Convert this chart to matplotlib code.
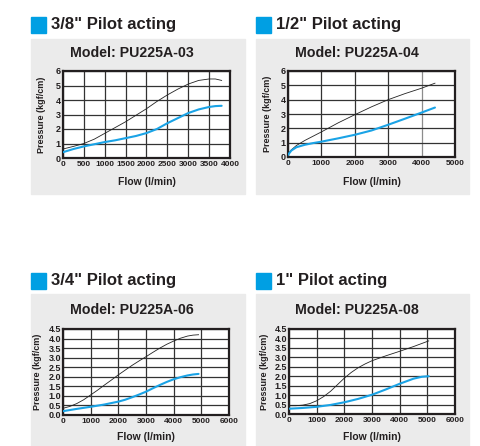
import matplotlib
matplotlib.use("Agg")
import matplotlib.pyplot as plt
from matplotlib.patches import Rectangle
from matplotlib import font_manager

names = {f.name for f in font_manager.fontManager.ttflist}
NARROW = 'Liberation Sans Narrow' if 'Liberation Sans Narrow' in names else 'Liberation Sans'
SANS = 'Liberation Sans'

# ---------------- data ----------------
headers = ['3/8" Pilot acting', '1/2" Pilot acting', '3/4" Pilot acting', '1" Pilot acting']
models = ['Model: PU225A-03', 'Model: PU225A-04', 'Model: PU225A-06', 'Model: PU225A-08']

p1_flow_black = [0, 250, 500, 750, 1000, 1250, 1500, 1750, 2000, 2250, 2500, 2750, 3000, 3250, 3500, 3650, 3800]
p1_press_black = [0.62, 0.8, 1.0, 1.3, 1.7, 2.1, 2.5, 2.95, 3.4, 3.9, 4.35, 4.75, 5.1, 5.35, 5.45, 5.45, 5.35]
p1_flow_blue = [0, 250, 500, 750, 1000, 1250, 1500, 1750, 2000, 2250, 2500, 2750, 3000, 3250, 3500, 3650, 3800]
p1_press_blue = [0.4, 0.62, 0.8, 0.95, 1.1, 1.22, 1.37, 1.52, 1.72, 2.0, 2.4, 2.75, 3.1, 3.35, 3.52, 3.58, 3.6]

p2_flow_black = [0, 100, 250, 500, 750, 1000, 1500, 2000, 2500, 3000, 3500, 4000, 4400]
p2_press_black = [0.23, 0.5, 0.8, 1.15, 1.45, 1.75, 2.38, 2.95, 3.5, 4.0, 4.42, 4.8, 5.15]
p2_flow_blue = [0, 100, 250, 500, 750, 1000, 1500, 2000, 2500, 3000, 3500, 4000, 4400]
p2_press_blue = [0.15, 0.45, 0.68, 0.85, 0.97, 1.07, 1.3, 1.55, 1.85, 2.25, 2.67, 3.1, 3.45]

p3_flow_black = [0, 250, 500, 750, 1000, 1250, 1500, 1750, 2000, 2250, 2500, 2750, 3000, 3250, 3500, 3750, 4000, 4250, 4500, 4700, 4900]
p3_press_black = [0.35, 0.45, 0.6, 0.8, 1.05, 1.3, 1.57, 1.83, 2.1, 2.35, 2.6, 2.83, 3.05, 3.28, 3.5, 3.7, 3.87, 4.02, 4.13, 4.18, 4.2]
p3_flow_blue = [0, 500, 1000, 1500, 2000, 2250, 2500, 2750, 3000, 3250, 3500, 3750, 4000, 4250, 4500, 4700, 4900]
p3_press_blue = [0.2, 0.32, 0.43, 0.55, 0.7, 0.8, 0.93, 1.07, 1.22, 1.4, 1.57, 1.73, 1.87, 1.98, 2.07, 2.12, 2.15]

p4_flow_black = [0, 250, 500, 750, 1000, 1250, 1500, 1750, 2000, 2250, 2500, 2750, 3000, 3500, 4000, 4500, 5050]
p4_press_black = [0.44, 0.44, 0.47, 0.55, 0.7, 0.92, 1.2, 1.55, 1.9, 2.2, 2.45, 2.65, 2.82, 3.08, 3.32, 3.57, 3.87]
p4_flow_blue = [0, 500, 1000, 1500, 2000, 2500, 3000, 3500, 4000, 4500, 4800, 5050]
p4_press_blue = [0.28, 0.32, 0.38, 0.48, 0.62, 0.8, 1.02, 1.3, 1.6, 1.87, 1.97, 2.0]

x_ticks = [list(range(0, 4001, 500)), list(range(0, 5001, 1000)),
           list(range(0, 6001, 1000)), list(range(0, 6001, 1000))]
y_ticks = [list(range(0, 7)), list(range(0, 7)),
           [i * 0.5 for i in range(10)], [i * 0.5 for i in range(10)]]
y_labels = [[str(v) for v in y_ticks[0]], [str(v) for v in y_ticks[1]],
            ['%.1f' % v for v in y_ticks[2]], ['%.1f' % v for v in y_ticks[3]]]

series = [
    (p1_flow_black, p1_press_black, p1_flow_blue, p1_press_blue),
    (p2_flow_black, p2_press_black, p2_flow_blue, p2_press_blue),
    (p3_flow_black, p3_press_black, p3_flow_blue, p3_press_blue),
    (p4_flow_black, p4_press_black, p4_flow_blue, p4_press_blue),
]

# ---------------- layout (pixels) ----------------
W, H = 481, 446
fig = plt.figure(figsize=(W / 100, H / 100), dpi=100)
fig.patch.set_facecolor('white')

def fx(x): return x / W
def fy(y): return 1 - y / H

# (gray box), (plot box), header y, model y, xlabel y, model x, ylabel x
panels = [
    ((31, 245, 39, 194), (63, 230, 71, 158), 25, 53, 182, 132, 42),
    ((256, 469, 39, 194), (288, 455, 71, 157), 25, 53, 182, 357, 268),
    ((31, 245, 294, 446), (63, 229, 329, 415), 281, 310, 437, 132, 38),
    ((256, 469, 294, 446), (289, 455, 329, 414), 281, 310, 437, 357, 265),
]

BLUE = '#1aa3e6'
SQ = '#009fe3'
DARK = '#231f20'

for i, (g, p, hy, my, xly, mx, ylx) in enumerate(panels):
    gx0, gx1, gy0, gy1 = g
    fig.patches.append(Rectangle((fx(gx0), fy(gy1)), fx(gx1 - gx0), (gy1 - gy0) / H,
                                 transform=fig.transFigure, color='#ebebeb', zorder=-10))
    fig.patches.append(Rectangle((fx(gx0), fy(hy + 8)), fx(15), 16 / H,
                                 transform=fig.transFigure, color=SQ, zorder=-5))
    fig.text(fx(gx0 + 20), fy(hy), headers[i], fontsize=12, fontweight='bold',
             family=SANS, va='center', ha='left', color=DARK)
    fig.text(fx(mx), fy(my), models[i], fontsize=10.2, fontweight='bold',
             family=SANS, va='center', ha='center', color=DARK)

    px0, px1, py0, py1 = p
    ax = fig.add_axes([fx(px0), fy(py1), fx(px1 - px0), (py1 - py0) / H])
    ax.set_facecolor('white')
    xb, yb, xl, yl = series[i]
    ax.plot(xb, yb, color='#222222', lw=0.6, zorder=3)
    ax.plot(xl, yl, color=BLUE, lw=1.5, zorder=4, solid_capstyle='round')
    ax.set_xlim(x_ticks[i][0], x_ticks[i][-1])
    ax.set_ylim(y_ticks[i][0], y_ticks[i][-1])
    ax.set_xticks(x_ticks[i])
    ax.set_xticklabels([str(v) for v in x_ticks[i]])
    ax.set_yticks(y_ticks[i])
    ax.set_yticklabels(y_labels[i])
    ax.grid(True, color='#333333', lw=0.9, zorder=1)
    ax.set_axisbelow(True)
    if i == 1:
        ax.xaxis.get_gridlines()[4].set_color('#8c8c8c')
    for s in ax.spines.values():
        s.set_linewidth(1.6)
        s.set_color(DARK)
    ax.tick_params(axis='x', length=0, pad=2, labelsize=6)
    ax.tick_params(axis='y', length=0, pad=1.5, labelsize=6.5)
    for lab in ax.get_xticklabels() + ax.get_yticklabels():
        lab.set_family(NARROW)
        lab.set_fontweight('bold')
        lab.set_color(DARK)
    ax.set_xlabel('Flow (l/min)', fontsize=7.5, fontweight='bold', family=SANS, color=DARK)
    ax.xaxis.set_label_coords(0.5, -(xly - py1) / (py1 - py0))
    ax.xaxis.label.set_va('center')
    ax.set_ylabel('Pressure (kgf/cm)', fontsize=6.5, fontweight='bold', family=SANS, color=DARK)
    ax.yaxis.set_label_coords(-(px0 - ylx) / (px1 - px0), 0.5)
    ax.yaxis.label.set_va('center')

fig.savefig('out.png', dpi=100, facecolor='white')
